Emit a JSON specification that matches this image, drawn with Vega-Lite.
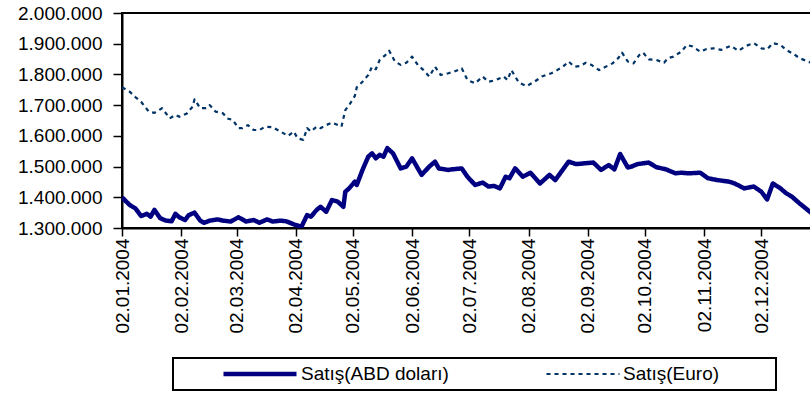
{
  "$schema": "https://vega.github.io/schema/vega-lite/v6.json",
  "width": 689,
  "height": 215,
  "autosize": {"type": "none"},
  "padding": {"left": 122, "top": 13, "right": 0, "bottom": 168},
  "background": "white",
  "config": {
    "view": {"stroke": "black", "strokeWidth": 2},
    "font": "Liberation Sans",
    "axis": {"grid": false, "domainColor": "black", "domainWidth": 2, "tickColor": "black", "tickWidth": 1.5, "labelColor": "black", "labelFont": "Liberation Sans", "labelFontSize": 19, "title": null},
    "legend": {
      "orient": "none", "legendX": 51, "legendY": 345, "direction": "horizontal",
      "symbolType": "stroke", "symbolSize": 5329, "clipHeight": 20,
      "labelFont": "Liberation Sans", "labelFontSize": 19, "labelColor": "black", "labelOffset": 2,
      "columnPadding": 54, "gridAlign": "none", "padding": 6, "symbolOffset": 42,
      "strokeColor": "black", "strokeWidth": 2, "labelLimit": 400,
      "titleOrient": "right", "titlePadding": 0, "titleFontSize": 19, "titleFont": "Liberation Sans", "titleColor": "white"
    }
  },
  "data": {"values": [
    {"d": "2004-01-02T00:00", "s": "Satış(ABD doları)", "v": 1400000},
    {"d": "2004-01-06T00:00", "s": "Satış(ABD doları)", "v": 1375000},
    {"d": "2004-01-09T00:00", "s": "Satış(ABD doları)", "v": 1364000},
    {"d": "2004-01-12T00:00", "s": "Satış(ABD doları)", "v": 1339000},
    {"d": "2004-01-15T00:00", "s": "Satış(ABD doları)", "v": 1346000},
    {"d": "2004-01-17T00:00", "s": "Satış(ABD doları)", "v": 1337000},
    {"d": "2004-01-19T00:00", "s": "Satış(ABD doları)", "v": 1359000},
    {"d": "2004-01-22T00:00", "s": "Satış(ABD doları)", "v": 1332000},
    {"d": "2004-01-25T00:00", "s": "Satış(ABD doları)", "v": 1324000},
    {"d": "2004-01-28T00:00", "s": "Satış(ABD doları)", "v": 1322000},
    {"d": "2004-01-30T00:00", "s": "Satış(ABD doları)", "v": 1346000},
    {"d": "2004-02-01T00:00", "s": "Satış(ABD doları)", "v": 1335000},
    {"d": "2004-02-04T00:00", "s": "Satış(ABD doları)", "v": 1326000},
    {"d": "2004-02-06T00:00", "s": "Satış(ABD doları)", "v": 1342000},
    {"d": "2004-02-09T00:00", "s": "Satış(ABD doları)", "v": 1350000},
    {"d": "2004-02-12T00:00", "s": "Satış(ABD doları)", "v": 1324000},
    {"d": "2004-02-14T00:00", "s": "Satış(ABD doları)", "v": 1317000},
    {"d": "2004-02-17T00:00", "s": "Satış(ABD doları)", "v": 1324000},
    {"d": "2004-02-21T00:00", "s": "Satış(ABD doları)", "v": 1328000},
    {"d": "2004-02-24T00:00", "s": "Satış(ABD doları)", "v": 1324000},
    {"d": "2004-02-28T00:00", "s": "Satış(ABD doları)", "v": 1321000},
    {"d": "2004-03-03T00:00", "s": "Satış(ABD doları)", "v": 1335000},
    {"d": "2004-03-07T00:00", "s": "Satış(ABD doları)", "v": 1321000},
    {"d": "2004-03-11T00:00", "s": "Satış(ABD doları)", "v": 1326000},
    {"d": "2004-03-14T00:00", "s": "Satış(ABD doları)", "v": 1317000},
    {"d": "2004-03-18T00:00", "s": "Satış(ABD doları)", "v": 1328000},
    {"d": "2004-03-21T00:00", "s": "Satış(ABD doları)", "v": 1321000},
    {"d": "2004-03-25T00:00", "s": "Satış(ABD doları)", "v": 1324000},
    {"d": "2004-03-28T00:00", "s": "Satış(ABD doları)", "v": 1322000},
    {"d": "2004-04-01T00:00", "s": "Satış(ABD doları)", "v": 1312000},
    {"d": "2004-04-05T00:00", "s": "Satış(ABD doları)", "v": 1304000},
    {"d": "2004-04-08T00:00", "s": "Satış(ABD doları)", "v": 1342000},
    {"d": "2004-04-10T00:00", "s": "Satış(ABD doları)", "v": 1337000},
    {"d": "2004-04-13T00:00", "s": "Satış(ABD doları)", "v": 1359000},
    {"d": "2004-04-15T00:00", "s": "Satış(ABD doları)", "v": 1369000},
    {"d": "2004-04-18T00:00", "s": "Satış(ABD doları)", "v": 1353000},
    {"d": "2004-04-21T00:00", "s": "Satış(ABD doları)", "v": 1391000},
    {"d": "2004-04-24T00:00", "s": "Satış(ABD doları)", "v": 1386000},
    {"d": "2004-04-27T00:00", "s": "Satış(ABD doları)", "v": 1369000},
    {"d": "2004-04-28T00:00", "s": "Satış(ABD doları)", "v": 1418000},
    {"d": "2004-04-30T00:00", "s": "Satış(ABD doları)", "v": 1429000},
    {"d": "2004-05-03T00:00", "s": "Satış(ABD doları)", "v": 1451000},
    {"d": "2004-05-04T00:00", "s": "Satış(ABD doları)", "v": 1440000},
    {"d": "2004-05-07T00:00", "s": "Satış(ABD doları)", "v": 1489000},
    {"d": "2004-05-10T00:00", "s": "Satış(ABD doları)", "v": 1532000},
    {"d": "2004-05-12T00:00", "s": "Satış(ABD doları)", "v": 1543000},
    {"d": "2004-05-14T00:00", "s": "Satış(ABD doları)", "v": 1527000},
    {"d": "2004-05-16T00:00", "s": "Satış(ABD doları)", "v": 1538000},
    {"d": "2004-05-18T00:00", "s": "Satış(ABD doları)", "v": 1532000},
    {"d": "2004-05-20T00:00", "s": "Satış(ABD doları)", "v": 1560000},
    {"d": "2004-05-23T00:00", "s": "Satış(ABD doları)", "v": 1543000},
    {"d": "2004-05-27T00:00", "s": "Satış(ABD doları)", "v": 1494000},
    {"d": "2004-05-30T00:00", "s": "Satış(ABD doları)", "v": 1500000},
    {"d": "2004-06-02T00:00", "s": "Satış(ABD doları)", "v": 1527000},
    {"d": "2004-06-05T00:00", "s": "Satış(ABD doları)", "v": 1494000},
    {"d": "2004-06-07T00:00", "s": "Satış(ABD doları)", "v": 1473000},
    {"d": "2004-06-11T00:00", "s": "Satış(ABD doları)", "v": 1500000},
    {"d": "2004-06-14T00:00", "s": "Satış(ABD doları)", "v": 1516000},
    {"d": "2004-06-16T00:00", "s": "Satış(ABD doları)", "v": 1494000},
    {"d": "2004-06-21T00:00", "s": "Satış(ABD doları)", "v": 1489000},
    {"d": "2004-06-23T00:00", "s": "Satış(ABD doları)", "v": 1491000},
    {"d": "2004-06-28T00:00", "s": "Satış(ABD doları)", "v": 1494000},
    {"d": "2004-07-01T00:00", "s": "Satış(ABD doları)", "v": 1467000},
    {"d": "2004-07-05T00:00", "s": "Satış(ABD doları)", "v": 1440000},
    {"d": "2004-07-09T00:00", "s": "Satış(ABD doları)", "v": 1448000},
    {"d": "2004-07-12T00:00", "s": "Satış(ABD doları)", "v": 1435000},
    {"d": "2004-07-15T00:00", "s": "Satış(ABD doları)", "v": 1437000},
    {"d": "2004-07-18T00:00", "s": "Satış(ABD doları)", "v": 1429000},
    {"d": "2004-07-21T00:00", "s": "Satış(ABD doları)", "v": 1467000},
    {"d": "2004-07-23T00:00", "s": "Satış(ABD doları)", "v": 1462000},
    {"d": "2004-07-26T00:00", "s": "Satış(ABD doları)", "v": 1494000},
    {"d": "2004-07-30T00:00", "s": "Satış(ABD doları)", "v": 1467000},
    {"d": "2004-08-03T00:00", "s": "Satış(ABD doları)", "v": 1480000},
    {"d": "2004-08-08T00:00", "s": "Satış(ABD doları)", "v": 1445000},
    {"d": "2004-08-13T00:00", "s": "Satış(ABD doları)", "v": 1473000},
    {"d": "2004-08-16T00:00", "s": "Satış(ABD doları)", "v": 1456000},
    {"d": "2004-08-23T00:00", "s": "Satış(ABD doları)", "v": 1516000},
    {"d": "2004-08-27T00:00", "s": "Satış(ABD doları)", "v": 1508000},
    {"d": "2004-09-01T00:00", "s": "Satış(ABD doları)", "v": 1511000},
    {"d": "2004-09-05T00:00", "s": "Satış(ABD doları)", "v": 1513000},
    {"d": "2004-09-09T00:00", "s": "Satış(ABD doları)", "v": 1489000},
    {"d": "2004-09-13T00:00", "s": "Satış(ABD doları)", "v": 1505000},
    {"d": "2004-09-16T00:00", "s": "Satış(ABD doları)", "v": 1491000},
    {"d": "2004-09-19T00:00", "s": "Satış(ABD doları)", "v": 1541000},
    {"d": "2004-09-23T00:00", "s": "Satış(ABD doları)", "v": 1497000},
    {"d": "2004-09-25T00:00", "s": "Satış(ABD doları)", "v": 1500000},
    {"d": "2004-09-28T00:00", "s": "Satış(ABD doları)", "v": 1508000},
    {"d": "2004-10-04T00:00", "s": "Satış(ABD doları)", "v": 1513000},
    {"d": "2004-10-08T00:00", "s": "Satış(ABD doları)", "v": 1498000},
    {"d": "2004-10-13T00:00", "s": "Satış(ABD doları)", "v": 1491000},
    {"d": "2004-10-18T00:00", "s": "Satış(ABD doları)", "v": 1478000},
    {"d": "2004-10-21T00:00", "s": "Satış(ABD doları)", "v": 1480000},
    {"d": "2004-10-25T00:00", "s": "Satış(ABD doları)", "v": 1478000},
    {"d": "2004-10-31T00:00", "s": "Satış(ABD doları)", "v": 1480000},
    {"d": "2004-11-04T00:00", "s": "Satış(ABD doları)", "v": 1462000},
    {"d": "2004-11-09T00:00", "s": "Satış(ABD doları)", "v": 1456000},
    {"d": "2004-11-15T00:00", "s": "Satış(ABD doları)", "v": 1451000},
    {"d": "2004-11-18T00:00", "s": "Satış(ABD doları)", "v": 1445000},
    {"d": "2004-11-23T00:00", "s": "Satış(ABD doları)", "v": 1429000},
    {"d": "2004-11-28T00:00", "s": "Satış(ABD doları)", "v": 1435000},
    {"d": "2004-12-02T00:00", "s": "Satış(ABD doları)", "v": 1418000},
    {"d": "2004-12-05T00:00", "s": "Satış(ABD doları)", "v": 1393000},
    {"d": "2004-12-08T00:00", "s": "Satış(ABD doları)", "v": 1445000},
    {"d": "2004-12-12T00:00", "s": "Satış(ABD doları)", "v": 1429000},
    {"d": "2004-12-15T00:00", "s": "Satış(ABD doları)", "v": 1413000},
    {"d": "2004-12-18T00:00", "s": "Satış(ABD doları)", "v": 1402000},
    {"d": "2004-12-22T00:00", "s": "Satış(ABD doları)", "v": 1380000},
    {"d": "2004-12-28T00:00", "s": "Satış(ABD doları)", "v": 1350000},
    {"d": "2004-01-02T00:00", "s": "Satış(Euro)", "v": 1758000},
    {"d": "2004-01-06T00:00", "s": "Satış(Euro)", "v": 1744000},
    {"d": "2004-01-09T00:00", "s": "Satış(Euro)", "v": 1726000},
    {"d": "2004-01-12T00:00", "s": "Satış(Euro)", "v": 1711000},
    {"d": "2004-01-16T00:00", "s": "Satış(Euro)", "v": 1679000},
    {"d": "2004-01-19T00:00", "s": "Satış(Euro)", "v": 1675000},
    {"d": "2004-01-23T00:00", "s": "Satış(Euro)", "v": 1690000},
    {"d": "2004-01-27T00:00", "s": "Satış(Euro)", "v": 1657000},
    {"d": "2004-01-30T00:00", "s": "Satış(Euro)", "v": 1668000},
    {"d": "2004-02-01T00:00", "s": "Satış(Euro)", "v": 1662000},
    {"d": "2004-02-05T00:00", "s": "Satış(Euro)", "v": 1673000},
    {"d": "2004-02-08T00:00", "s": "Satış(Euro)", "v": 1695000},
    {"d": "2004-02-09T00:00", "s": "Satış(Euro)", "v": 1719000},
    {"d": "2004-02-12T00:00", "s": "Satış(Euro)", "v": 1690000},
    {"d": "2004-02-15T00:00", "s": "Satış(Euro)", "v": 1690000},
    {"d": "2004-02-17T00:00", "s": "Satış(Euro)", "v": 1700000},
    {"d": "2004-02-20T00:00", "s": "Satış(Euro)", "v": 1679000},
    {"d": "2004-02-24T00:00", "s": "Satış(Euro)", "v": 1673000},
    {"d": "2004-02-26T00:00", "s": "Satış(Euro)", "v": 1657000},
    {"d": "2004-02-29T00:00", "s": "Satış(Euro)", "v": 1652000},
    {"d": "2004-03-03T00:00", "s": "Satış(Euro)", "v": 1625000},
    {"d": "2004-03-05T00:00", "s": "Satış(Euro)", "v": 1625000},
    {"d": "2004-03-08T00:00", "s": "Satış(Euro)", "v": 1635000},
    {"d": "2004-03-11T00:00", "s": "Satış(Euro)", "v": 1619000},
    {"d": "2004-03-14T00:00", "s": "Satış(Euro)", "v": 1619000},
    {"d": "2004-03-17T00:00", "s": "Satış(Euro)", "v": 1630000},
    {"d": "2004-03-21T00:00", "s": "Satış(Euro)", "v": 1628000},
    {"d": "2004-03-25T00:00", "s": "Satış(Euro)", "v": 1614000},
    {"d": "2004-03-29T00:00", "s": "Satış(Euro)", "v": 1600000},
    {"d": "2004-04-01T00:00", "s": "Satış(Euro)", "v": 1614000},
    {"d": "2004-04-03T00:00", "s": "Satış(Euro)", "v": 1592000},
    {"d": "2004-04-06T00:00", "s": "Satış(Euro)", "v": 1587000},
    {"d": "2004-04-08T00:00", "s": "Satış(Euro)", "v": 1625000},
    {"d": "2004-04-10T00:00", "s": "Satış(Euro)", "v": 1614000},
    {"d": "2004-04-13T00:00", "s": "Satış(Euro)", "v": 1630000},
    {"d": "2004-04-15T00:00", "s": "Satış(Euro)", "v": 1625000},
    {"d": "2004-04-18T00:00", "s": "Satış(Euro)", "v": 1635000},
    {"d": "2004-04-21T00:00", "s": "Satış(Euro)", "v": 1643000},
    {"d": "2004-04-26T00:00", "s": "Satış(Euro)", "v": 1630000},
    {"d": "2004-04-28T00:00", "s": "Satış(Euro)", "v": 1684000},
    {"d": "2004-04-30T00:00", "s": "Satış(Euro)", "v": 1700000},
    {"d": "2004-05-03T00:00", "s": "Satış(Euro)", "v": 1730000},
    {"d": "2004-05-04T00:00", "s": "Satış(Euro)", "v": 1758000},
    {"d": "2004-05-07T00:00", "s": "Satış(Euro)", "v": 1776000},
    {"d": "2004-05-10T00:00", "s": "Satış(Euro)", "v": 1798000},
    {"d": "2004-05-12T00:00", "s": "Satış(Euro)", "v": 1825000},
    {"d": "2004-05-14T00:00", "s": "Satış(Euro)", "v": 1817000},
    {"d": "2004-05-16T00:00", "s": "Satış(Euro)", "v": 1847000},
    {"d": "2004-05-19T00:00", "s": "Satış(Euro)", "v": 1863000},
    {"d": "2004-05-21T00:00", "s": "Satış(Euro)", "v": 1877000},
    {"d": "2004-05-24T00:00", "s": "Satış(Euro)", "v": 1842000},
    {"d": "2004-05-27T00:00", "s": "Satış(Euro)", "v": 1831000},
    {"d": "2004-05-30T00:00", "s": "Satış(Euro)", "v": 1838000},
    {"d": "2004-06-02T00:00", "s": "Satış(Euro)", "v": 1858000},
    {"d": "2004-06-05T00:00", "s": "Satış(Euro)", "v": 1831000},
    {"d": "2004-06-08T00:00", "s": "Satış(Euro)", "v": 1814000},
    {"d": "2004-06-11T00:00", "s": "Satış(Euro)", "v": 1793000},
    {"d": "2004-06-14T00:00", "s": "Satış(Euro)", "v": 1825000},
    {"d": "2004-06-17T00:00", "s": "Satış(Euro)", "v": 1798000},
    {"d": "2004-06-21T00:00", "s": "Satış(Euro)", "v": 1804000},
    {"d": "2004-06-24T00:00", "s": "Satış(Euro)", "v": 1809000},
    {"d": "2004-06-28T00:00", "s": "Satış(Euro)", "v": 1820000},
    {"d": "2004-07-01T00:00", "s": "Satış(Euro)", "v": 1782000},
    {"d": "2004-07-05T00:00", "s": "Satış(Euro)", "v": 1771000},
    {"d": "2004-07-09T00:00", "s": "Satış(Euro)", "v": 1793000},
    {"d": "2004-07-12T00:00", "s": "Satış(Euro)", "v": 1776000},
    {"d": "2004-07-16T00:00", "s": "Satış(Euro)", "v": 1782000},
    {"d": "2004-07-20T00:00", "s": "Satış(Euro)", "v": 1793000},
    {"d": "2004-07-22T00:00", "s": "Satış(Euro)", "v": 1782000},
    {"d": "2004-07-24T00:00", "s": "Satış(Euro)", "v": 1814000},
    {"d": "2004-07-28T00:00", "s": "Satış(Euro)", "v": 1773000},
    {"d": "2004-08-01T00:00", "s": "Satış(Euro)", "v": 1762000},
    {"d": "2004-08-05T00:00", "s": "Satış(Euro)", "v": 1776000},
    {"d": "2004-08-09T00:00", "s": "Satış(Euro)", "v": 1793000},
    {"d": "2004-08-14T00:00", "s": "Satış(Euro)", "v": 1804000},
    {"d": "2004-08-17T00:00", "s": "Satış(Euro)", "v": 1814000},
    {"d": "2004-08-20T00:00", "s": "Satış(Euro)", "v": 1825000},
    {"d": "2004-08-23T00:00", "s": "Satış(Euro)", "v": 1842000},
    {"d": "2004-08-26T00:00", "s": "Satış(Euro)", "v": 1825000},
    {"d": "2004-08-29T00:00", "s": "Satış(Euro)", "v": 1827000},
    {"d": "2004-09-01T00:00", "s": "Satış(Euro)", "v": 1838000},
    {"d": "2004-09-04T00:00", "s": "Satış(Euro)", "v": 1831000},
    {"d": "2004-09-08T00:00", "s": "Satış(Euro)", "v": 1814000},
    {"d": "2004-09-12T00:00", "s": "Satış(Euro)", "v": 1827000},
    {"d": "2004-09-15T00:00", "s": "Satış(Euro)", "v": 1836000},
    {"d": "2004-09-18T00:00", "s": "Satış(Euro)", "v": 1853000},
    {"d": "2004-09-20T00:00", "s": "Satış(Euro)", "v": 1871000},
    {"d": "2004-09-23T00:00", "s": "Satış(Euro)", "v": 1842000},
    {"d": "2004-09-26T00:00", "s": "Satış(Euro)", "v": 1836000},
    {"d": "2004-09-29T00:00", "s": "Satış(Euro)", "v": 1863000},
    {"d": "2004-10-01T00:00", "s": "Satış(Euro)", "v": 1871000},
    {"d": "2004-10-04T00:00", "s": "Satış(Euro)", "v": 1849000},
    {"d": "2004-10-08T00:00", "s": "Satış(Euro)", "v": 1847000},
    {"d": "2004-10-12T00:00", "s": "Satış(Euro)", "v": 1838000},
    {"d": "2004-10-14T00:00", "s": "Satış(Euro)", "v": 1853000},
    {"d": "2004-10-17T00:00", "s": "Satış(Euro)", "v": 1858000},
    {"d": "2004-10-21T00:00", "s": "Satış(Euro)", "v": 1874000},
    {"d": "2004-10-24T00:00", "s": "Satış(Euro)", "v": 1896000},
    {"d": "2004-10-27T00:00", "s": "Satış(Euro)", "v": 1891000},
    {"d": "2004-10-31T00:00", "s": "Satış(Euro)", "v": 1874000},
    {"d": "2004-11-03T00:00", "s": "Satış(Euro)", "v": 1882000},
    {"d": "2004-11-07T00:00", "s": "Satış(Euro)", "v": 1885000},
    {"d": "2004-11-11T00:00", "s": "Satış(Euro)", "v": 1880000},
    {"d": "2004-11-16T00:00", "s": "Satış(Euro)", "v": 1893000},
    {"d": "2004-11-20T00:00", "s": "Satış(Euro)", "v": 1877000},
    {"d": "2004-11-24T00:00", "s": "Satış(Euro)", "v": 1893000},
    {"d": "2004-11-28T00:00", "s": "Satış(Euro)", "v": 1902000},
    {"d": "2004-12-02T00:00", "s": "Satış(Euro)", "v": 1885000},
    {"d": "2004-12-05T00:00", "s": "Satış(Euro)", "v": 1882000},
    {"d": "2004-12-08T00:00", "s": "Satış(Euro)", "v": 1902000},
    {"d": "2004-12-12T00:00", "s": "Satış(Euro)", "v": 1896000},
    {"d": "2004-12-15T00:00", "s": "Satış(Euro)", "v": 1880000},
    {"d": "2004-12-19T00:00", "s": "Satış(Euro)", "v": 1866000},
    {"d": "2004-12-22T00:00", "s": "Satış(Euro)", "v": 1853000},
    {"d": "2004-12-28T00:00", "s": "Satış(Euro)", "v": 1838000}
  ]},
  "mark": {"type": "line", "strokeJoin": "round", "clip": true},
  "encoding": {
    "x": {
      "field": "d", "type": "temporal",
      "scale": {"domain": [{"year": 2004, "month": 1, "date": 2}, {"year": 2004, "month": 12, "date": 28}]},
      "axis": {
        "values": [
          {"year": 2004, "month": 1, "date": 2}, {"year": 2004, "month": 2, "date": 2},
          {"year": 2004, "month": 3, "date": 2}, {"year": 2004, "month": 4, "date": 2},
          {"year": 2004, "month": 5, "date": 2}, {"year": 2004, "month": 6, "date": 2},
          {"year": 2004, "month": 7, "date": 2}, {"year": 2004, "month": 8, "date": 2},
          {"year": 2004, "month": 9, "date": 2}, {"year": 2004, "month": 10, "date": 2},
          {"year": 2004, "month": 11, "date": 2}, {"year": 2004, "month": 12, "date": 2}
        ],
        "format": "%d.%m.%Y", "labelAngle": -90, "tickSize": 8, "labelPadding": 2, "labelOverlap": false, "labelFlush": false
      }
    },
    "y": {
      "field": "v", "type": "quantitative",
      "scale": {"domain": [1300000, 2000000], "nice": false, "zero": false},
      "axis": {
        "values": [1300000, 1400000, 1500000, 1600000, 1700000, 1800000, 1900000, 2000000],
        "labelExpr": "replace(replace(format(datum.value, ',d'), ',', '.'), ',', '.')",
        "tickSize": 9, "labelPadding": 11, "labelOverlap": false, "labelFlush": false
      }
    },
    "color": {
      "field": "s", "type": "nominal",
      "scale": {"domain": ["Satış(ABD doları)", "Satış(Euro)"], "range": ["#000080", "#003366"]},
      "legend": {"title": "--------"}
    },
    "strokeDash": {
      "field": "s", "type": "nominal",
      "scale": {"domain": ["Satış(ABD doları)", "Satış(Euro)"], "range": [[1, 0], [4, 4]]},
      "legend": {"title": "--------"}
    },
    "strokeWidth": {
      "field": "s", "type": "nominal",
      "scale": {"type": "ordinal", "domain": ["Satış(ABD doları)", "Satış(Euro)"], "range": [4.5, 2.2]},
      "legend": {"title": "--------"}
    }
  }
}
